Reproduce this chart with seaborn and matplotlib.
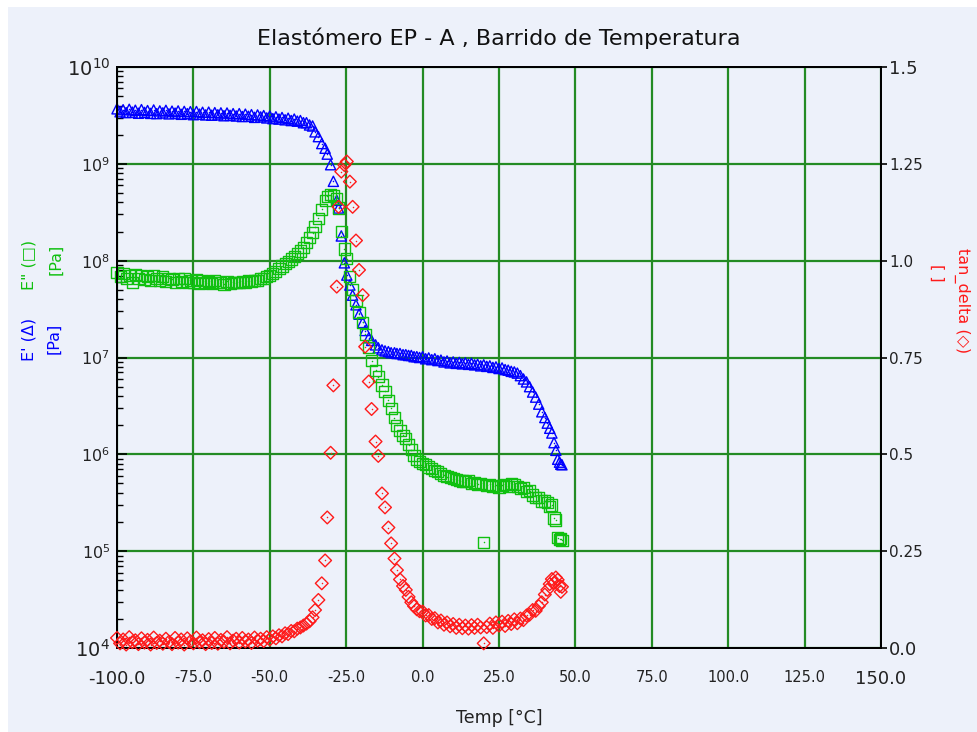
import matplotlib
matplotlib.use("Agg")
import numpy as np
import pandas as pd
import matplotlib.pyplot as plt
import seaborn as sns
from matplotlib.ticker import LogLocator, NullFormatter
from matplotlib.patches import Rectangle

# ---- temperature sweep: readings of E', E'' and tan(delta) ----
temp = [
    -100, -99, -98, -97, -96, -95, -94, -93, -92, -91,
    -90, -89, -88, -87, -86, -85, -84, -83, -82, -81,
    -80, -79, -78, -77, -76, -75, -74, -73, -72, -71,
    -70, -69, -68, -67, -66, -65, -64, -63, -62, -61,
    -60, -59, -58, -57, -56, -55, -54, -53, -52, -51,
    -50, -49, -48, -47, -46, -45, -44, -43, -42, -41,
    -40, -39, -38, -37, -36,
    -35.2, -34.1, -33.0, -31.9, -31.2, -30.1, -29.2, -28.1, -27.5, -26.6,
    -25.6, -24.8, -23.8, -22.9, -21.8, -20.8, -19.6, -18.8, -17.6, -16.7,
    -15.4, -14.5, -13.3, -12.3, -11.2, -10.3, -9.2, -8.4, -7.4, -6.4,
    -5.5, -4.6, -3.7, -2.8, -1.9, -1.0,
    0, 1, 2, 3, 4, 5, 6, 7, 8, 9,
    10, 11, 12, 13, 14, 15, 16, 17, 18, 19,
    20, 21, 22, 23, 24, 25, 26, 27, 28, 29,
    30, 31, 32, 33, 34, 35, 36, 37, 38, 39, 40,
    40.8, 41.6, 42.3, 43.0, 43.6, 44.2, 44.8, 45.2, 45.6,
]

# storage modulus E' [Pa]
storage_modulus = [
    3.70e9, 3.45e9, 3.62e9, 3.38e9, 3.66e9, 3.42e9, 3.58e9, 3.33e9, 3.63e9, 3.40e9,
    3.55e9, 3.32e9, 3.60e9, 3.30e9, 3.52e9, 3.36e9, 3.57e9, 3.28e9, 3.50e9, 3.34e9,
    3.52e9, 3.25e9, 3.48e9, 3.30e9, 3.46e9, 3.22e9, 3.47e9, 3.26e9, 3.41e9, 3.20e9,
    3.42e9, 3.18e9, 3.38e9, 3.21e9, 3.36e9, 3.14e9, 3.35e9, 3.17e9, 3.30e9, 3.12e9,
    3.30e9, 3.08e9, 3.26e9, 3.10e9, 3.22e9, 3.02e9, 3.20e9, 3.05e9, 3.15e9, 2.98e9,
    3.12e9, 2.93e9, 3.06e9, 2.90e9, 3.01e9, 2.85e9, 2.96e9, 2.80e9, 2.90e9, 2.76e9,
    2.80e9, 2.66e9, 2.66e9, 2.52e9, 2.46e9,
    2.14e9, 1.91e9, 1.62e9, 1.45e9, 1.26e9, 9.8e8, 6.6e8, 4.2e8, 3.5e8, 1.8e8,
    9.5e7, 7.1e7, 5.6e7, 4.4e7, 3.5e7, 2.8e7, 2.3e7, 1.9e7, 1.6e7, 1.5e7,
    1.35e7, 1.26e7, 1.2e7, 1.17e7, 1.15e7, 1.12e7, 1.12e7, 1.1e7, 1.1e7, 1.07e7,
    1.07e7, 1.05e7, 1.05e7, 1.02e7, 1.02e7, 1.0e7,
    1.02e7, 9.7e6, 9.9e6, 9.5e6, 9.7e6, 9.3e6, 9.4e6, 9.0e6, 9.2e6, 8.8e6,
    9.0e6, 8.7e6, 8.9e6, 8.6e6, 8.8e6, 8.5e6, 8.7e6, 8.4e6, 8.5e6, 8.2e6,
    8.4e6, 8.1e6, 8.2e6, 7.9e6, 8.0e6, 7.7e6, 7.8e6, 7.5e6, 7.4e6, 7.2e6,
    7.1e6, 6.9e6, 6.5e6, 6.0e6, 5.6e6, 5.0e6, 4.4e6, 3.9e6, 3.3e6, 2.75e6, 2.4e6,
    2.1e6, 1.86e6, 1.66e6, 1.32e6, 1.1e6, 8.9e5, 8.3e5, 7.9e5, 7.8e5,
]

# loss modulus E'' [Pa]
loss_modulus = [
    7.6e7, 6.8e7, 7.3e7, 6.5e7, 7.1e7, 5.9e7, 7.2e7, 6.6e7, 7.0e7, 6.4e7,
    6.9e7, 6.3e7, 7.0e7, 6.5e7, 6.2e7, 6.8e7, 6.1e7, 6.6e7, 6.4e7, 6.0e7,
    6.5e7, 6.1e7, 6.6e7, 5.9e7, 6.3e7, 6.0e7, 6.4e7, 5.8e7, 6.2e7, 5.9e7,
    6.1e7, 5.8e7, 6.3e7, 5.9e7, 6.0e7, 5.7e7, 6.1e7, 5.8e7, 6.0e7, 5.9e7,
    6.0e7, 6.1e7, 5.9e7, 6.2e7, 6.1e7, 6.3e7, 6.2e7, 6.5e7, 6.6e7, 6.9e7,
    7.1e7, 7.4e7, 7.8e7, 8.3e7, 8.8e7, 9.3e7, 9.9e7, 1.04e8, 1.10e8, 1.18e8,
    1.26e8, 1.38e8, 1.53e8, 1.72e8, 1.95e8,
    2.24e8, 2.75e8, 3.4e8, 4.2e8, 4.6e8, 4.8e8, 4.7e8, 4.4e8, 3.5e8, 2.0e8,
    1.32e8, 1.05e8, 6.8e7, 5.0e7, 3.9e7, 2.9e7, 2.3e7, 1.74e7, 1.26e7, 9.3e6,
    7.4e6, 6.3e6, 5.2e6, 4.5e6, 3.6e6, 3.0e6, 2.4e6, 2.0e6, 1.78e6, 1.58e6,
    1.45e6, 1.26e6, 1.12e6, 9.8e5, 8.9e5, 8.5e5,
    8.1e5, 7.8e5, 7.4e5, 7.1e5, 6.8e5, 6.6e5, 6.3e5, 6.1e5, 5.9e5, 5.8e5,
    5.6e5, 5.5e5, 5.4e5, 5.3e5, 5.2e5, 5.4e5, 5.0e5, 5.1e5, 4.9e5, 5.0e5,
    1.23e5, 4.8e5, 4.9e5, 4.7e5, 4.8e5, 4.6e5, 4.8e5, 4.9e5, 4.7e5, 5.0e5,
    4.9e5, 4.7e5, 4.4e5, 4.5e5, 4.1e5, 4.2e5, 3.8e5, 3.6e5, 3.6e5, 3.3e5, 3.3e5,
    3.2e5, 2.9e5, 3.0e5, 2.2e5, 2.1e5, 1.38e5, 1.32e5, 1.35e5, 1.30e5,
]

# loss factor tan(delta) [-]
tan_delta = [
    0.026, 0.012, 0.022, 0.009, 0.028, 0.015, 0.020, 0.010, 0.025, 0.014,
    0.021, 0.009, 0.027, 0.013, 0.019, 0.011, 0.024, 0.016, 0.010, 0.026,
    0.014, 0.022, 0.009, 0.025, 0.017, 0.012, 0.027, 0.015, 0.020, 0.010,
    0.023, 0.013, 0.026, 0.011, 0.021, 0.016, 0.028, 0.012, 0.019, 0.024,
    0.014, 0.026, 0.017, 0.022, 0.013, 0.027, 0.019, 0.024, 0.018, 0.028,
    0.022, 0.030, 0.025, 0.033, 0.030, 0.038, 0.036, 0.044, 0.043, 0.050,
    0.053, 0.058, 0.063, 0.069, 0.079,
    0.098, 0.124, 0.167, 0.226, 0.337, 0.504, 0.678, 0.933, 1.139, 1.23,
    1.247, 1.256, 1.204, 1.139, 1.052, 0.976, 0.911, 0.778, 0.688, 0.617,
    0.533, 0.496, 0.399, 0.363, 0.311, 0.270, 0.231, 0.201, 0.177, 0.160,
    0.150, 0.132, 0.118, 0.108, 0.100, 0.095,
    0.094, 0.084, 0.085, 0.075, 0.077, 0.066, 0.071, 0.060, 0.066, 0.056,
    0.062, 0.052, 0.060, 0.051, 0.058, 0.050, 0.059, 0.052, 0.060, 0.053,
    0.012, 0.054, 0.063, 0.052, 0.066, 0.058, 0.068, 0.057, 0.070, 0.062,
    0.074, 0.064, 0.076, 0.072, 0.084, 0.086, 0.098, 0.096, 0.108, 0.118, 0.138,
    0.150, 0.165, 0.178, 0.168, 0.182, 0.176, 0.160, 0.145, 0.158,
]

x_ticks = [-100, -75, -50, -25, 0, 25, 50, 75, 100, 125, 150]
x_tick_labels = ["-100.0", "-75.0", "-50.0", "-25.0", "0.0", "25.0", "50.0",
                 "75.0", "100.0", "125.0", "150.0"]
modulus_ticks = [1e4, 1e5, 1e6, 1e7, 1e8, 1e9, 1e10]
modulus_tick_labels = ["$10^{4}$", "$10^{5}$", "$10^{6}$", "$10^{7}$",
                       "$10^{8}$", "$10^{9}$", "$10^{10}$"]
tan_ticks = [0.0, 0.25, 0.5, 0.75, 1.0, 1.25, 1.5]
tan_tick_labels = ["0.0", "0.25", "0.5", "0.75", "1.0", "1.25", "1.5"]

df = pd.DataFrame({
    "temp": temp,
    "storage": storage_modulus,
    "loss": loss_modulus,
    "tan_delta": tan_delta,
})

BG = "#EDF1FA"
GRID = "#238B23"
BLUE = "#0000FF"
GREEN = "#10C010"
RED = "#FF1A1A"

sns.set_theme(style="white")
plt.rcParams["font.family"] = ["DejaVu Sans"]
plt.rcParams["mathtext.default"] = "regular"

W, H = 977, 732
fig = plt.figure(figsize=(W / 100, H / 100), dpi=100)
fig.patch.set_facecolor("white")
fig.patches.append(Rectangle((8 / W, 0), 1 - 8 / W, 1 - 7 / H,
                             transform=fig.transFigure, facecolor=BG,
                             edgecolor="none", zorder=-10))

L, R, T, B = 117, 881, 67, 648
ax = fig.add_axes([L / W, 1 - B / H, (R - L) / W, (B - T) / H])
ax.set_facecolor(BG)
ax2 = ax.twinx()

# E' : open triangles, E'' : open squares
sns.scatterplot(data=df, x="temp", y="storage", ax=ax, marker="^", s=54,
                facecolor="none", edgecolor=BLUE, linewidth=1.0,
                clip_on=False, zorder=3, legend=False)
sns.scatterplot(data=df, x="temp", y="storage", ax=ax, marker="o", s=1.2,
                color=BLUE, linewidth=0, clip_on=False, zorder=3, legend=False)
sns.scatterplot(data=df, x="temp", y="loss", ax=ax, marker="s", s=64,
                facecolor="none", edgecolor=GREEN, linewidth=1.0,
                clip_on=False, zorder=3, legend=False)
sns.scatterplot(data=df, x="temp", y="loss", ax=ax, marker="o", s=1.2,
                color=GREEN, linewidth=0, clip_on=False, zorder=3, legend=False)

# tan(delta) : open diamonds on the secondary axis
sns.scatterplot(data=df, x="temp", y="tan_delta", ax=ax2, marker="D", s=42,
                facecolor="none", edgecolor=RED, linewidth=1.0,
                clip_on=False, zorder=3, legend=False)
sns.scatterplot(data=df, x="temp", y="tan_delta", ax=ax2, marker="o", s=1.2,
                color=RED, linewidth=0, clip_on=False, zorder=3, legend=False)

# axes, scales and grid
ax.set_xlim(-100, 150)
ax.set_yscale("log")
ax.set_ylim(1e4, 1e10)
ax2.set_ylim(0, 1.5)

ax.set_xticks(x_ticks, x_tick_labels)
ax.set_yticks(modulus_ticks, modulus_tick_labels)
ax.yaxis.set_minor_locator(LogLocator(base=10, subs=np.arange(2, 10), numticks=20))
ax.yaxis.set_minor_formatter(NullFormatter())
ax2.set_yticks(tan_ticks, tan_tick_labels)

ax.grid(True, which="major", color=GRID, linewidth=1.6)
ax.grid(False, which="minor")
ax.set_axisbelow(True)
ax2.grid(False)

ax.tick_params(axis="x", direction="in", length=6, width=1.2, color="black",
               labelsize=10.5, pad=16, labelcolor="#222222", top=False)
ax.tick_params(axis="y", which="major", direction="in", length=7, width=1.2,
               color="black", labelsize=11.5, pad=5, labelcolor="#222222",
               left=True, right=False)
ax.tick_params(axis="y", which="minor", direction="in", length=4, width=1.0,
               color="black", left=True, right=False)
ax2.tick_params(axis="y", direction="out", length=4, width=1.2, color="black",
                labelsize=11, pad=2, labelcolor="#222222")

for lbl in (ax.get_xticklabels()[0], ax.get_xticklabels()[-1]):
    lbl.set_fontsize(13)
for lbl in (ax.get_yticklabels()[0], ax.get_yticklabels()[-1]):
    lbl.set_fontsize(14)
for lbl in (ax2.get_yticklabels()[0], ax2.get_yticklabels()[-1]):
    lbl.set_fontsize(13)

for a in (ax, ax2):
    for sp in a.spines.values():
        sp.set_color("black")
        sp.set_linewidth(1.4)
        sp.set_visible(True)

ax.set_xlabel("")
ax.set_ylabel("")
ax2.set_ylabel("")

# titles and axis captions
fig.text(499 / W, 1 - 38 / H, "Elastómero EP - A , Barrido de Temperatura",
         ha="center", va="center", fontsize=16, color="#111111")
fig.text(499 / W, 1 - 718 / H, "Temp [°C]", ha="center", va="center",
         fontsize=12.5, color="#222222")

fig.text(29 / W, 1 - 339 / H, "E' (Δ)", rotation=90, ha="center", va="center",
         fontsize=11.5, color=BLUE)
fig.text(54 / W, 1 - 338 / H, "[Pa]", rotation=90, ha="center", va="center",
         fontsize=11.5, color=BLUE)
fig.text(29 / W, 1 - 265 / H, 'E" (□)', rotation=90, ha="center", va="center",
         fontsize=11.5, color=GREEN)
fig.text(56 / W, 1 - 259 / H, "[Pa]", rotation=90, ha="center", va="center",
         fontsize=11.5, color=GREEN)
fig.text(962 / W, 1 - 301 / H, "tan_delta (◇)", rotation=-90, ha="center",
         va="center", fontsize=11.5, color=RED)
fig.text(937 / W, 1 - 273 / H, "[ ]", rotation=-90, ha="center", va="center",
         fontsize=11.5, color=RED)

fig.savefig("out.png", dpi=100, facecolor=fig.get_facecolor())
